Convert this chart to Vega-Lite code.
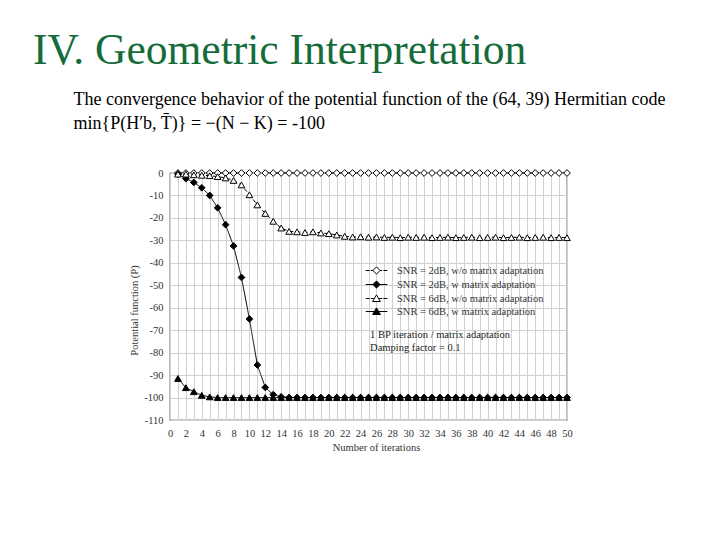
{
  "$schema": "https://vega.github.io/schema/vega-lite/v6.json",
  "width": 397,
  "height": 247,
  "autosize": {"type": "none"},
  "padding": {"left": 170, "top": 173, "right": 153, "bottom": 120},
  "background": "white",
  "title": {
    "text": "IV. Geometric Interpretation",
    "subtitle": [
      "\u200b\u00a0\u00a0\u00a0\u00a0\u00a0\u00a0\u00a0\u00a0\u00a0The convergence behavior of the potential function of the (64, 39) Hermitian code",
      "\u200b\u00a0\u00a0\u00a0\u00a0\u00a0\u00a0\u00a0\u00a0\u00a0min{P(H\u2032b, T\u0304)} = \u2212(N \u2212 K)  = -100"
    ],
    "anchor": "start",
    "frame": "group",
    "dx": -137,
    "offset": 34,
    "font": "Liberation Serif",
    "fontSize": 43.5,
    "fontWeight": "normal",
    "color": "#156b3a",
    "subtitleFont": "Liberation Serif",
    "subtitleFontSize": 18,
    "subtitleColor": "black",
    "subtitleLineHeight": 24,
    "subtitlePadding": 17
  },
  "config": {
    "view": {"stroke": "#222", "strokeWidth": 1.2},
    "axis": {
      "labelFont": "Liberation Serif",
      "labelFontSize": 10.5,
      "labelColor": "#333",
      "titleFont": "Liberation Serif",
      "titleFontSize": 10.5,
      "titleFontWeight": "normal",
      "titleColor": "#333",
      "gridColor": "#d0d0d0",
      "domain": false,
      "ticks": false
    },
    "legend": {
      "orient": "none",
      "legendX": 200,
      "legendY": 91,
      "title": null,
      "padding": 0,
      "symbolSize": 144,
      "rowPadding": 1,
      "labelOffset": 14,
      "labelFont": "Liberation Serif",
      "labelFontSize": 10.5,
      "labelColor": "#333",
      "symbolStrokeWidth": 1,
      "symbolOpacity": 1
    }
  },
  "resolve": {"scale": {"shape": "independent", "fill": "independent", "strokeDash": "independent", "stroke": "independent"}},
  "layer": [
    {
      "data": {
        "values": [
          {"i": 1, "A": 0, "B": -0.5, "C": -0.5, "D": -91.5},
          {"i": 2, "A": 0, "B": -2.5, "C": -0.5, "D": -95.6},
          {"i": 3, "A": 0, "B": -4.2, "C": -0.8, "D": -97.4},
          {"i": 4, "A": 0, "B": -6.6, "C": -1, "D": -99},
          {"i": 5, "A": 0, "B": -10, "C": -1.2, "D": -99.7},
          {"i": 6, "A": 0, "B": -15.5, "C": -1.6, "D": -100},
          {"i": 7, "A": 0, "B": -23, "C": -2.2, "D": -100},
          {"i": 8, "A": 0, "B": -32.5, "C": -3.3, "D": -100},
          {"i": 9, "A": 0, "B": -46.5, "C": -5.3, "D": -100},
          {"i": 10, "A": 0, "B": -65, "C": -9.7, "D": -100},
          {"i": 11, "A": 0, "B": -85.5, "C": -14.2, "D": -100},
          {"i": 12, "A": 0, "B": -95.5, "C": -18, "D": -100},
          {"i": 13, "A": 0, "B": -98.7, "C": -21.5, "D": -100},
          {"i": 14, "A": 0, "B": -99.7, "C": -24.5, "D": -100},
          {"i": 15, "A": 0, "B": -100, "C": -26, "D": -100},
          {"i": 16, "A": 0, "B": -100, "C": -26.2, "D": -100},
          {"i": 17, "A": 0, "B": -100, "C": -26.5, "D": -100},
          {"i": 18, "A": 0, "B": -100, "C": -26.2, "D": -100},
          {"i": 19, "A": 0, "B": -100, "C": -26.7, "D": -100},
          {"i": 20, "A": 0, "B": -100, "C": -27, "D": -100},
          {"i": 21, "A": 0, "B": -100, "C": -27.6, "D": -100},
          {"i": 22, "A": 0, "B": -100, "C": -28.2, "D": -100},
          {"i": 23, "A": 0, "B": -100, "C": -28.5, "D": -100},
          {"i": 24, "A": 0, "B": -100, "C": -28.4, "D": -100},
          {"i": 25, "A": 0, "B": -100, "C": -28.6, "D": -100},
          {"i": 26, "A": 0, "B": -100, "C": -28.5, "D": -100},
          {"i": 27, "A": 0, "B": -100, "C": -28.7, "D": -100},
          {"i": 28, "A": 0, "B": -100, "C": -28.6, "D": -100},
          {"i": 29, "A": 0, "B": -100, "C": -28.8, "D": -100},
          {"i": 30, "A": 0, "B": -100, "C": -28.6, "D": -100},
          {"i": 31, "A": 0, "B": -100, "C": -28.7, "D": -100},
          {"i": 32, "A": 0, "B": -100, "C": -28.6, "D": -100},
          {"i": 33, "A": 0, "B": -100, "C": -28.8, "D": -100},
          {"i": 34, "A": 0, "B": -100, "C": -28.7, "D": -100},
          {"i": 35, "A": 0, "B": -100, "C": -28.6, "D": -100},
          {"i": 36, "A": 0, "B": -100, "C": -28.8, "D": -100},
          {"i": 37, "A": 0, "B": -100, "C": -28.7, "D": -100},
          {"i": 38, "A": 0, "B": -100, "C": -28.6, "D": -100},
          {"i": 39, "A": 0, "B": -100, "C": -28.8, "D": -100},
          {"i": 40, "A": 0, "B": -100, "C": -28.7, "D": -100},
          {"i": 41, "A": 0, "B": -100, "C": -28.6, "D": -100},
          {"i": 42, "A": 0, "B": -100, "C": -28.8, "D": -100},
          {"i": 43, "A": 0, "B": -100, "C": -28.7, "D": -100},
          {"i": 44, "A": 0, "B": -100, "C": -28.6, "D": -100},
          {"i": 45, "A": 0, "B": -100, "C": -28.8, "D": -100},
          {"i": 46, "A": 0, "B": -100, "C": -28.7, "D": -100},
          {"i": 47, "A": 0, "B": -100, "C": -28.6, "D": -100},
          {"i": 48, "A": 0, "B": -100, "C": -28.8, "D": -100},
          {"i": 49, "A": 0, "B": -100, "C": -28.7, "D": -100},
          {"i": 50, "A": 0, "B": -100, "C": -28.8, "D": -100}
        ]
      },
      "transform": [{"fold": ["A", "B", "C", "D"], "as": ["s", "v"]}],
      "encoding": {
        "x": {
          "field": "i",
          "type": "quantitative",
          "scale": {"domain": [0, 50], "nice": false},
          "axis": {
            "title": "Number of iterations",
            "values": [0,1,2,3,4,5,6,7,8,9,10,11,12,13,14,15,16,17,18,19,20,21,22,23,24,25,26,27,28,29,30,31,32,33,34,35,36,37,38,39,40,41,42,43,44,45,46,47,48,49,50],
            "tickCount": 100,
            "labelExpr": "datum.value % 2 == 0 ? '' + datum.value : ''",
            "labelOverlap": false,
            "labelFlush": false,
            "labelPadding": 8,
            "titlePadding": 4,
            "titleX": 206
          }
        },
        "y": {
          "field": "v",
          "type": "quantitative",
          "scale": {"domain": [-110, 0], "nice": false},
          "axis": {
            "title": "Potential function (P)",
            "values": [-110,-100,-90,-80,-70,-60,-50,-40,-30,-20,-10,0],
            "tickCount": 30,
            "labelExpr": "'' + datum.value",
            "labelOverlap": false,
            "labelFlush": false,
            "labelPadding": 7,
            "titlePadding": 4,
            "titleY": 137
          }
        }
      },
      "layer": [
        {
          "mark": {"type": "line", "color": "black", "strokeWidth": 1},
          "encoding": {
            "detail": {"field": "s", "type": "nominal"},
            "strokeDash": {
              "field": "s",
              "type": "nominal",
              "scale": {"domain": ["B", "A", "D", "C"], "range": [[1, 0], [4, 3], [1, 0], [4, 3]]},
              "legend": null
            }
          }
        },
        {
          "mark": {"type": "point", "stroke": "black", "strokeWidth": 1, "opacity": 1, "size": 45},
          "encoding": {
            "fill": {
              "field": "s",
              "type": "nominal",
              "scale": {"domain": ["D", "C", "B", "A"], "range": ["black", "white", "black", "white"]},
              "legend": null
            },
            "shape": {
              "field": "s",
              "type": "nominal",
              "scale": {"domain": ["C", "D", "A", "B"], "range": ["triangle-up", "triangle-up", "diamond", "diamond"]},
              "legend": null
            }
          }
        }
      ]
    },
    {
      "data": {"values": [{"s": "A"}, {"s": "B"}, {"s": "C"}, {"s": "D"}]},
      "transform": [{"filter": "false"}],
      "mark": {"type": "point", "strokeWidth": 1, "opacity": 1, "size": 144},
      "encoding": {
        "stroke": {
          "field": "s",
          "type": "nominal",
          "scale": {"domain": ["A", "B", "C", "D"], "range": ["black", "black", "black", "black"]},
          "legend": {
            "labelExpr": "datum.value == 'A' ? 'SNR = 2dB, w/o matrix adaptation' : datum.value == 'B' ? 'SNR = 2dB, w matrix adaptation' : datum.value == 'C' ? 'SNR = 6dB, w/o matrix adaptation' : 'SNR = 6dB, w matrix adaptation'"
          }
        },
        "fill": {
          "field": "s",
          "type": "nominal",
          "scale": {"domain": ["A", "B", "C", "D"], "range": ["white", "black", "white", "black"]},
          "legend": {
            "labelExpr": "datum.value == 'A' ? 'SNR = 2dB, w/o matrix adaptation' : datum.value == 'B' ? 'SNR = 2dB, w matrix adaptation' : datum.value == 'C' ? 'SNR = 6dB, w/o matrix adaptation' : 'SNR = 6dB, w matrix adaptation'"
          }
        },
        "shape": {
          "field": "s",
          "type": "nominal",
          "scale": {
            "domain": ["A", "B", "C", "D"],
            "range": [
              "M-1.8,0H-1.15M-0.95,0H-0.6M0.6,0H0.95M1.15,0H1.8M0,-0.6L0.6,0L0,0.6L-0.6,0Z",
              "M-1.8,0H1.8M0,-0.6L0.6,0L0,0.6L-0.6,0Z",
              "M-1.8,0H-1.15M-0.95,0H-0.45M0.45,0H0.95M1.15,0H1.8M0,-0.6L0.65,0.5L-0.65,0.5Z",
              "M-1.8,0H1.8M0,-0.6L0.65,0.5L-0.65,0.5Z"
            ]
          },
          "legend": {
            "labelExpr": "datum.value == 'A' ? 'SNR = 2dB, w/o matrix adaptation' : datum.value == 'B' ? 'SNR = 2dB, w matrix adaptation' : datum.value == 'C' ? 'SNR = 6dB, w/o matrix adaptation' : 'SNR = 6dB, w matrix adaptation'"
          }
        }
      }
    },
    {
      "data": {"values": [{"note": "annotation"}]},
      "mark": {
        "type": "text",
        "align": "left",
        "baseline": "alphabetic",
        "font": "Liberation Serif",
        "fontSize": 10.5,
        "color": "#222",
        "lineHeight": 12.5,
        "text": ["1 BP iteration / matrix adaptation", "Damping factor = 0.1"]
      },
      "encoding": {
        "x": {"datum": 25.2},
        "y": {"datum": -73.5}
      }
    }
  ]
}
